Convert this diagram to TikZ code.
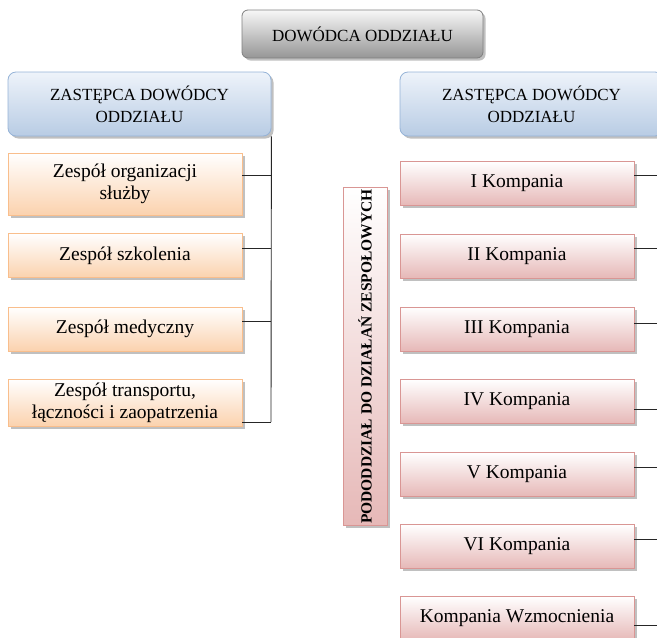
\documentclass[tikz,border=0pt]{standalone}
\usepackage{fontspec}
\setmainfont{Liberation Serif}
\usetikzlibrary{shadows}

\definecolor{chiefline}{HTML}{808080}
\definecolor{chieftop}{HTML}{F7F7F7}
\definecolor{chiefbottom}{HTML}{969696}
\definecolor{deputyline}{HTML}{95B3D7}
\definecolor{deputytop}{HTML}{EEF3FA}
\definecolor{deputybottom}{HTML}{B8CCE4}
\definecolor{teamline}{HTML}{F9BE8C}
\definecolor{teambottom}{HTML}{FBD2AE}
\definecolor{compline}{HTML}{D99694}
\definecolor{compbottom}{HTML}{E6B8B7}

\tikzset{
  box/.style={draw, line width=0.8pt, align=center, inner sep=2pt,
    minimum width=234pt, minimum height=44pt,
    drop shadow={shadow xshift=2.5pt, shadow yshift=-2.5pt, fill=black!45, opacity=.55}},
  capsfont/.style={font=\fontsize{17}{22}\selectfont},
  textfont/.style={font=\fontsize{19.5}{22}\selectfont},
  chief/.style={box, capsfont, rounded corners=6pt, draw=chiefline,
    top color=chieftop, bottom color=chiefbottom, minimum width=241pt, minimum height=48pt},
  deputy/.style={box, capsfont, rounded corners=8pt, draw=deputyline,
    top color=deputytop, bottom color=deputybottom, minimum width=263pt, minimum height=64pt},
  team/.style={box, textfont, draw=teamline, top color=white, bottom color=teambottom},
  company/.style={box, textfont, draw=compline, top color=white, bottom color=compbottom},
  link/.style={draw=black!85, line width=0.9pt}
}

\begin{document}
\begin{tikzpicture}[x=1pt, y=-1pt]
    \useasboundingbox (0,0) rectangle (657,638);

    \node[chief] (dowodca) at (362.5,34) {DOWÓDCA ODDZIAŁU};

    \node[deputy] (zastL) at (139.5,104) {ZASTĘPCA DOWÓDCY\\ODDZIAŁU};
    \node[deputy] (zastR) at (531.5,104) {ZASTĘPCA DOWÓDCY\\ODDZIAŁU};

    \node[team, minimum height=62pt] (zesp1) at (125,184) {Zespół organizacji\\służby};
    \node[team] (zesp2) at (125,255.5) {Zespół szkolenia};
    \node[team] (zesp3) at (125,329) {Zespół medyczny};
    \node[team, minimum height=47pt] (zesp4) at (125,402.5) {Zespół transportu,\\łączności i zaopatrzenia};

    \node[company] (komp1) at (517,183.5) {I Kompania};
    \node[company] (komp2) at (517,256) {II Kompania};
    \node[company] (komp3) at (517,329) {III Kompania};
    \node[company] (komp4) at (517,401.5) {IV Kompania};
    \node[company] (komp5) at (517,474.5) {V Kompania};
    \node[company] (komp6) at (517,546.5) {VI Kompania};
    \node[company] (komp7) at (517,618.5) {Kompania Wzmocnienia};

    \node[company, minimum width=44pt, minimum height=333pt] (pododdzial) at (365,356.5)
      {\rotatebox{90}{\fontsize{15.5}{18}\selectfont\bfseries PODODDZIAŁ DO DZIAŁAŃ ZESPOŁOWYCH}};

    \coordinate (trunkend) at (271,422);
    \coordinate (rightedge) at (660,0);

    % left branch
    \path[link] (zastL.south east) -- (trunkend);
    \path[link] ([yshift=9pt]zesp1.east) -- ([yshift=9pt]zesp1.east -| trunkend);
    \path[link] ([yshift=7.5pt]zesp2.east) -- ([yshift=7.5pt]zesp2.east -| trunkend);
    \path[link] ([yshift=8pt]zesp3.east) -- ([yshift=8pt]zesp3.east -| trunkend);
    \path[link] (zesp4.east |- trunkend) -- (trunkend);

    % right branch
    \path[link] ([yshift=8.5pt]komp1.east) -- ([yshift=8.5pt]komp1.east -| rightedge);
    \path[link] ([yshift=8pt]komp2.east) -- ([yshift=8pt]komp2.east -| rightedge);
    \path[link] ([yshift=6pt]komp3.east) -- ([yshift=6pt]komp3.east -| rightedge);
    \path[link] ([yshift=-7.5pt]komp4.east) -- ([yshift=-7.5pt]komp4.east -| rightedge);
    \path[link] ([yshift=7.5pt]komp5.east) -- ([yshift=7.5pt]komp5.east -| rightedge);
    \path[link] ([yshift=7.5pt]komp6.east) -- ([yshift=7.5pt]komp6.east -| rightedge);
    \path[link] ([yshift=-6.5pt]komp7.east) -- ([yshift=-6.5pt]komp7.east -| rightedge);
\end{tikzpicture}
\end{document}
